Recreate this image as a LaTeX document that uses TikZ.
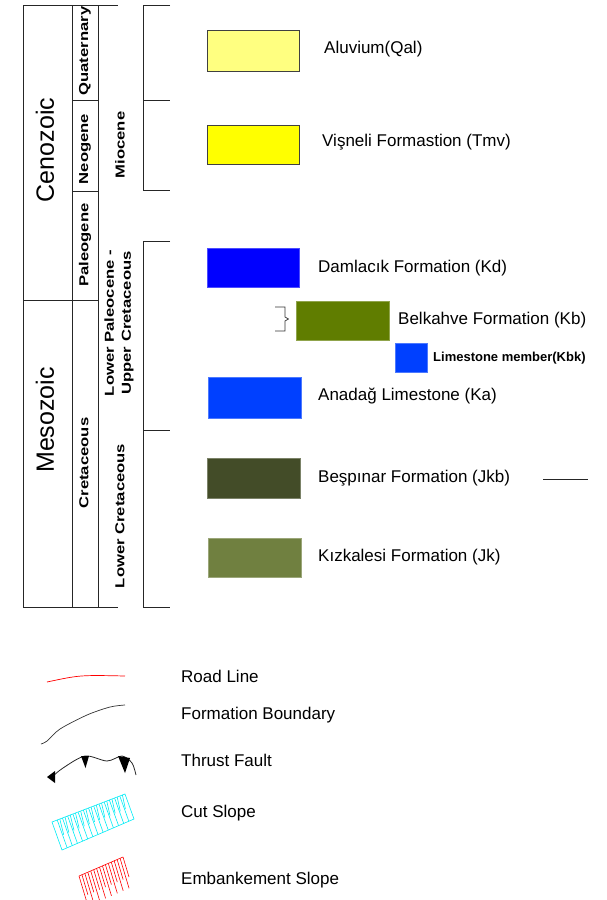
\documentclass[tikz,border=0pt]{standalone}
\usepackage{fontspec}
\usepackage{graphicx}
\setmainfont{Liberation Sans}
\definecolor{cAluv}{RGB}{255,255,128}
\definecolor{cVisn}{RGB}{255,255,0}
\definecolor{cDaml}{RGB}{0,0,255}
\definecolor{cBelk}{RGB}{96,125,0}
\definecolor{cLime}{RGB}{0,64,255}
\definecolor{cBesp}{RGB}{67,76,40}
\definecolor{cKizk}{RGB}{112,128,64}
\definecolor{cCut}{RGB}{0,235,245}
\tikzset{
  tbl/.style={draw=black!85, line width=0.8pt},
  era/.style={rotate=90, inner sep=0, font=\fontsize{25}{28}\selectfont},
  per/.style={rotate=90, inner sep=0, font=\bfseries\fontsize{13}{17}\selectfont, align=center},
  unitbox/.style={minimum width=92pt, minimum height=40pt, inner sep=0, line width=0.8pt},
  lbl/.style={anchor=west, inner sep=0, font=\fontsize{17}{20}\selectfont},
}
\newcommand{\stw}[1]{\scalebox{1.28}[1]{#1}}
\begin{document}
\begin{tikzpicture}[x=1pt,y=-1pt]
\useasboundingbox (0,0) rectangle (607,900);
% ---- table ----
\draw[tbl] (23,5) -- (118,5);
\draw[tbl] (23,607) -- (118,607);
\draw[tbl] (23,5) -- (23,607);
\draw[tbl] (72,5) -- (72,607);
\draw[tbl] (98,5) -- (98,607);
\draw[tbl] (72,100) -- (98,100);
\draw[tbl] (72,191) -- (98,191);
\draw[tbl] (23,300) -- (98,300);
\draw[tbl] (170,5) -- (143,5) -- (143,190) -- (170,190);
\draw[tbl] (143,100) -- (170,100);
\draw[tbl] (170,241) -- (143,241) -- (143,607) -- (170,607);
\draw[tbl] (143,430) -- (170,430);
% ---- table labels ----
\node[era] (ceno) at (45,150) {Cenozoic};
\node[era] (meso) at (45,420) {Mesozoic};
\node[per] (quat) at (85,51) {\stw{Quaternary}};
\node[per] (neog) at (85,149) {\stw{Neogene}};
\node[per] (paleo) at (85,245) {\stw{Paleogene}};
\node[per] (cret) at (84,463) {\stw{Cretaceous}};
\node[per] (mioc) at (120,145) {\stw{Miocene}};
\node[per] (lpuc) at (119,323) {\stw{Lower Paleocene -}\\\stw{Upper Cretaceous}};
\node[per] (lcret) at (120,516) {\stw{Lower Cretaceous}};
% ---- unit boxes ----
\node[unitbox, fill=cAluv, draw=black!75, minimum height=41pt] (aluv) at (253,50.5) {};
\node[unitbox, fill=cVisn, draw=black!75, minimum height=39pt] (visn) at (253,144.5) {};
\node[unitbox, fill=cDaml, draw=cDaml!70!white, minimum height=39pt] (daml) at (253,267.5) {};
\node[unitbox, fill=cBelk, draw=cBelk!70!white, minimum width=93pt, minimum height=39pt] (belk) at (342.5,320.5) {};
\node[unitbox, fill=cLime, draw=cLime!70!white, minimum width=32pt, minimum height=29pt] (lmem) at (411,357.5) {};
\node[unitbox, fill=cLime, draw=cLime!70!white, minimum width=93pt, minimum height=41pt] (anad) at (254.5,397.5) {};
\node[unitbox, fill=cBesp, draw=cBesp!70!white, minimum width=93pt] (besp) at (253.5,478) {};
\node[unitbox, fill=cKizk, draw=cKizk!70!white, minimum width=93pt, minimum height=39pt] (kizk) at (254.5,557.5) {};
% ---- unit labels ----
\node[lbl] (taluv) at (324,49) {Aluvium(Qal)};
\node[lbl] (tvisn) at (322,142) {Vişneli Formastion (Tmv)};
\node[lbl] (tdaml) at (318,268) {Damlacık Formation (Kd)};
\node[lbl] (tbelk) at (398,320) {Belkahve Formation (Kb)};
\node[lbl, font=\bfseries\fontsize{13}{15}\selectfont] (tlmem) at (433,358) {Limestone member(Kbk)};
\node[lbl] (tanad) at (318,396) {Anadağ Limestone (Ka)};
\node[lbl] (tbesp) at (318,478) {Beşpınar Formation (Jkb)};
\node[lbl] (tkizk) at (318,557) {Kızkalesi Formation (Jk)};
% bracket near Belkahve
\draw[black!80, line width=0.7pt] (275,307) -- (285,307) -- (285,317) -- (288.5,319) -- (285,321) -- (285,331) -- (275,331);
% short line right of Bespinar
\coordinate (la) at (543,479);
\coordinate (lb) at (588,479);
\draw[black!85, line width=0.9pt] (la) -- (lb);
% ---- map symbol legend ----
\node[lbl] (troad) at (181,676) {Road Line};
\node[lbl] (tform) at (181,715) {Formation Boundary};
\node[lbl] (tthr) at (181,760) {Thrust Fault};
\node[lbl] (tcut) at (181,813) {Cut Slope};
\node[lbl] (temb) at (181,880) {Embankement Slope};
% road line
\draw[red, line width=0.7pt] (47,682) .. controls (80,675) .. (125,676);
% formation boundary
\draw[black!80, line width=0.7pt] plot[smooth] coordinates {(41,744) (47,741) (60,729) (87,715) (110,707) (125,705)};
% thrust fault
\draw[black!85, line width=0.8pt] plot[smooth] coordinates {(52,777) (63,768) (85,756) (107,761) (122,756) (132,763) (136,775)};
\fill[black] (47,777) -- (55,771) -- (55,783) -- cycle;
\fill[black] (81,756) -- (89,756) -- (85.5,768) -- cycle;
\fill[black] (118,756) -- (130,758) -- (125,773) -- cycle;
% cut slope
\begin{scope}[cCut, line width=0.6pt]
\draw (52,822) -- (125,794) -- (134,819) -- (62,850) -- cycle;
\foreach \i in {1,...,13} {
  \pgfmathsetmacro{\t}{\i/14}
  \draw ({52+73*\t},{822-28*\t}) -- ({62+72*\t},{850-31*\t});
}
\foreach \i in {1,...,13} {
  \pgfmathsetmacro{\t}{(\i+0.5)/14}
  \draw ({52+73*\t},{822-28*\t}) -- ({56+72*\t},{838-30*\t});
}
\end{scope}
% embankment slope
\begin{scope}[red, line width=0.6pt]
\draw (79,876) -- (123,857);
\foreach \i in {0,...,15} {
  \pgfmathsetmacro{\t}{\i/15}
  \pgfmathsetmacro{\L}{mod(\i,2)==0 ? 30 : 20}
  \draw ({79+44*\t},{876-19*\t}) -- ({79+44*\t+\L*0.3},{876-19*\t+\L});
}
\end{scope}
\end{tikzpicture}
\end{document}
